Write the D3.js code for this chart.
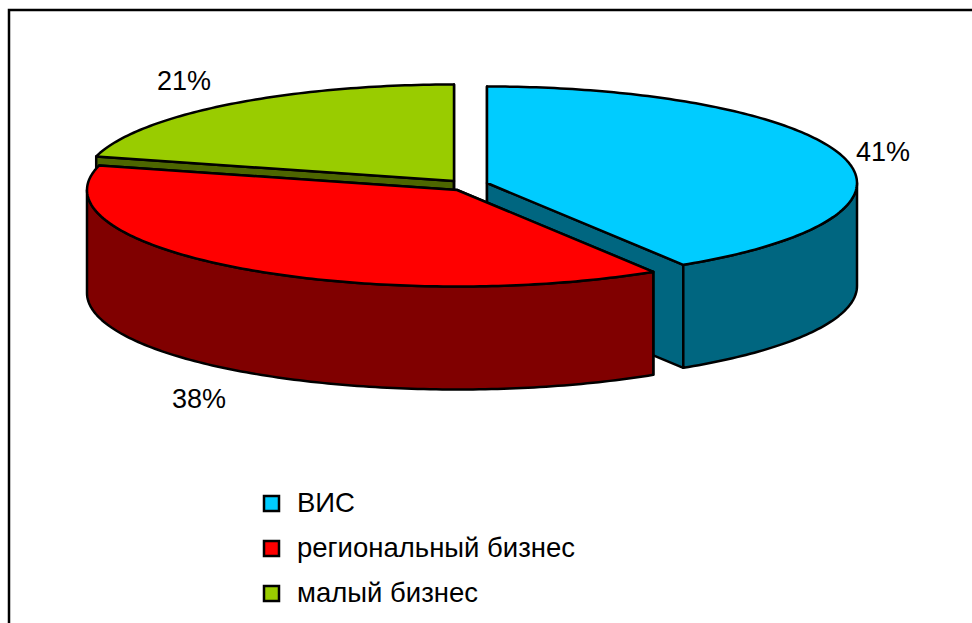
<!DOCTYPE html>
<html>
<head>
<meta charset="utf-8">
<script src="https://cdn.jsdelivr.net/npm/d3@7/dist/d3.min.js"></script>
<style>
html,body{margin:0;padding:0;background:#fff;}
svg{display:block;}
text{font-family:"Liberation Sans",Arial,sans-serif;fill:#000;}
</style>
</head>
<body>
<div id="chart"></div>
<script>
var categories=["ВИС","региональный бизнес","малый бизнес"];
var values=[41.1,38,20.9];
var labels=["41%","38%","21%"];

var width=972,height=623;
var svg=d3.select("#chart").append("svg")
	.attr("width",width)
	.attr("height",height);

// frame, only left and top edges are inside the picture
svg.append("path")
	.attr("d","M9,623V10H972")
	.attr("fill","none")
	.attr("stroke","#000")
	.attr("stroke-width",2.5);

var color=d3.scaleOrdinal().domain(categories).range(["#00ccff","#ff0000","#99cc00"]);
var side=d3.scaleOrdinal().domain(categories).range(["#006680","#800000","#4d6600"]);

var pie=d3.pie().sort(null).startAngle(0).endAngle(2*Math.PI);
var slices=pie(values);

// exploded centres of the slices, ellipse sizes
var centres=[[487,183],[457,190],[454,181]];
var rx=370,ry=96.5,depth=103;

var line=d3.line();

function rim(i,a0,a1,dy)
{
	var c=centres[i];
	var n=Math.max(2,Math.ceil((a1-a0)*60));
	var x=d3.scaleLinear().domain([-1,1]).range([c[0]-rx,c[0]+rx]);
	var y=d3.scaleLinear().domain([-1,1]).range([c[1]-ry+dy,c[1]+ry+dy]);
	return d3.range(n+1).map(function(k){
		var a=a0+(a1-a0)*k/n;
		return [x(Math.sin(a)),y(-Math.cos(a))];
	});
}

function draw(pathPoints,fill)
{
	svg.append("path")
		.attr("d",line(pathPoints)+"Z")
		.attr("fill",fill)
		.attr("stroke","#000")
		.attr("stroke-width",2.5)
		.attr("stroke-linejoin","round");
}

function cutFace(i,a)
{
	var c=centres[i];
	var p=rim(i,a,a,0)[0];
	draw([c,p,[p[0],p[1]+depth],[c[0],c[1]+depth]],side(categories[i]));
}

function wall(i,a0,a1)
{
	var from=Math.max(a0,Math.PI/2),to=Math.min(a1,Math.PI*1.5);
	if(from>=to) return;
	draw(rim(i,from,to,0).concat(rim(i,from,to,depth).reverse()),side(categories[i]));
}

function topFace(i)
{
	var s=slices[i];
	draw([centres[i]].concat(rim(i,s.startAngle,s.endAngle,0)),color(categories[i]));
}

// back to front: blue, green, then red lies over both
[0,2,1].forEach(function(i){
	var s=slices[i];
	cutFace(i,s.startAngle);
	cutFace(i,s.endAngle);
	wall(i,s.startAngle,s.endAngle);
	topFace(i);
});

var labelPos=[[856,161],[172,408],[157,90]];
svg.selectAll(".pct").data(labels).enter().append("text")
	.attr("class","pct")
	.attr("x",function(d,i){return labelPos[i][0];})
	.attr("y",function(d,i){return labelPos[i][1];})
	.style("font-size","27px")
	.text(function(d){return d;});

var legendY=d3.scalePoint().domain(categories).range([503,593]);
var legend=svg.selectAll(".legend").data(categories).enter().append("g")
	.attr("class","legend")
	.attr("transform",function(d){return "translate(0,"+legendY(d)+")";});
legend.append("rect")
	.attr("x",264)
	.attr("y",-7)
	.attr("width",15)
	.attr("height",15)
	.attr("fill",function(d){return color(d);})
	.attr("stroke","#000")
	.attr("stroke-width",2.5);
legend.append("text")
	.attr("x",297)
	.attr("y",9)
	.style("font-size","27.5px")
	.text(function(d){return d;});
</script>
</body>
</html>
